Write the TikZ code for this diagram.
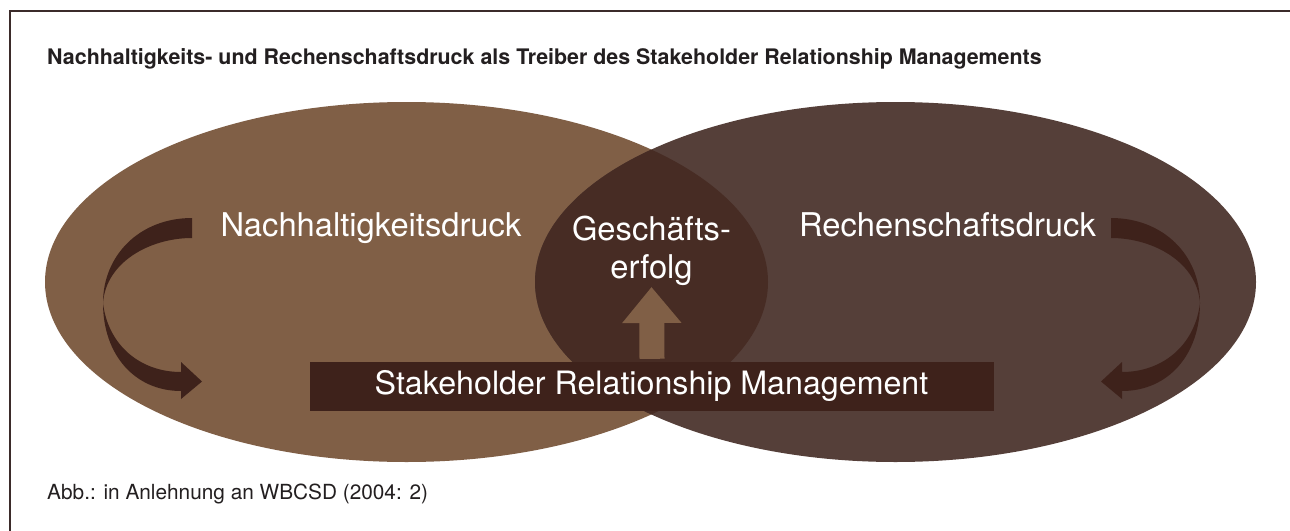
\documentclass[tikz,border=0pt]{standalone}
\usepackage{fontspec}
\setmainfont{TeX Gyre Heros}
\usetikzlibrary{arrows.meta}
\definecolor{frameline}{HTML}{3B2B2A}
\definecolor{sustain}{HTML}{805F46}
\definecolor{account}{HTML}{553F39}
\definecolor{overlap}{HTML}{472C24}
\definecolor{deep}{HTML}{3E221B}
\definecolor{inktext}{HTML}{231F20}
\begin{document}
\begin{tikzpicture}[x=1pt,y=-1pt,
  biglabel/.style={text=white,font=\fontsize{32.7}{38}\selectfont,inner sep=0pt,anchor=base},
  smalltext/.style={text=inktext,inner sep=0pt,anchor=base west},
  rise/.style={draw=sustain,line width=25pt,-{Triangle[length=36pt,width=57pt]}},
  cycleshape/.style={fill=deep}]
\useasboundingbox (0,0) rectangle (1290,530);
\fill[white] (0,0) rectangle (1290,530);
% open frame: top and left rules only
\draw[frameline,line width=1.3pt] (10,545) -- (10,11) -- (1300,11);

% heading and source line
\node[smalltext,font=\bfseries\fontsize{21.4}{25}\selectfont] (title) at (47,64)
  {Nachhaltigkeits- und Rechenschaftsdruck als Treiber des Stakeholder Relationship Managements};
\node[smalltext,font=\fontsize{20.8}{24}\selectfont] (source) at (47,499)
  {Abb.: in Anlehnung an WBCSD (2004: 2)};

% the two pressure fields and their overlap
\fill[sustain] (406.5,282) ellipse [x radius=361.5, y radius=180];
\fill[account] (895.5,282) ellipse [x radius=360.5, y radius=180];
\begin{scope}
  \clip (406.5,282) ellipse [x radius=361.5, y radius=180];
  \fill[overlap] (895.5,282) ellipse [x radius=360.5, y radius=180];
\end{scope}

% curved feedback arrows (right one mirrored about the centre line)
\def\feedback{%
  (192,218) -- (192,238) .. controls (150,238) and (106,262) .. (103,303)
  .. controls (108,345) and (140,372) .. (181,372) -- (181,362) -- (202,381.5)
  -- (181,399) -- (181,391) .. controls (135,391) and (103,355) .. (103,303)
  .. controls (103,255) and (140,218) .. (192,218) -- cycle}
\fill[cycleshape] \feedback;
\begin{scope}[shift={(1303,0)},xscale=-1]
  \fill[cycleshape] \feedback;
\end{scope}

% management bar
\node[fill=deep,minimum width=684pt,minimum height=49pt,inner sep=0pt] (bar) at (652,386.5) {};
\node[biglabel,font=\fontsize{32.2}{38}\selectfont] (srm) at (651.5,394.5) {Stakeholder Relationship Management};

% field labels
\node[biglabel] (nach) at (371,236.5) {Nachhaltigkeitsdruck};
\node[biglabel] (rech) at (947.5,236.5) {Rechenschaftsdruck};
\node[biglabel] (gesch) at (651.5,240) {Geschäfts-};
\node[biglabel] (erfolg) at (651.5,278) {erfolg};

% upward arrow from the bar to business success
\coordinate (risetip) at (651.5,287);
\draw[rise] ([yshift=3pt]bar.north) -- (risetip);
\end{tikzpicture}
\end{document}
